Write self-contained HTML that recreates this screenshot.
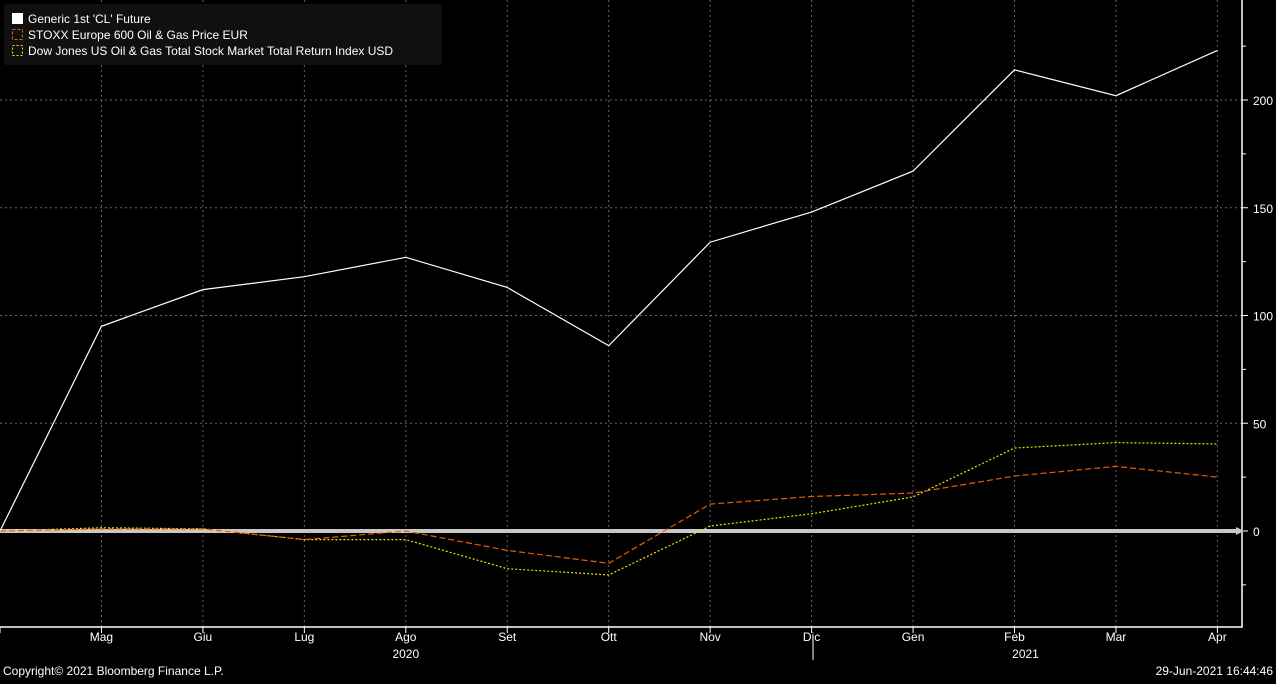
<!DOCTYPE html>
<html><head><meta charset="utf-8"><style>
body{margin:0;background:#000;width:1276px;height:679px;overflow:hidden;font-family:"Liberation Sans",sans-serif}
svg text{font-family:"Liberation Sans",sans-serif;fill:#fff;font-size:12px}
</style></head><body>
<svg id="chart" width="1276" height="679" xmlns="http://www.w3.org/2000/svg"></svg>
<script>
const months=['Apr','Mag','Giu','Lug','Ago','Set','Ott','Nov','Dic','Gen','Feb','Mar','Apr'];
const clFuture=[0,95,112,118,127,113,86,134,148,167,214,202,223];
const stoxx=[0,1,1,-4,0,-9,-15,12.5,16,17.6,25.5,30,25];
const dowJones=[0,1.5,1,-4,-4,-17.5,-20.4,2.3,8,15.8,38.5,41,40.4];
const yTicks=[0,50,100,150,200];
const minorTicks=[-25,25,75,125,175,225];
const legendLabels=["Generic 1st 'CL' Future","STOXX Europe 600 Oil & Gas Price EUR","Dow Jones US Oil & Gas Total Stock Market Total Return Index USD"];

const NS='http://www.w3.org/2000/svg';
const svg=document.getElementById('chart');
const x=i=>0+i*101.45;
const y=v=>531-v*2.155;
function mk(t,a,p){const e=document.createElementNS(NS,t);for(const k in a)e.setAttribute(k,a[k]);(p||svg).appendChild(e);return e;}

// grid
for(let i=1;i<months.length;i++){
  const g=mk('line',{x1:x(i),x2:x(i),y1:0,y2:627,stroke:'#666','stroke-dasharray':'2,3'});
  
  
}
yTicks.forEach(v=>{if(v===0)return;
  const g=mk('line',{x1:0,x2:1242,y1:y(v),y2:y(v),stroke:'#666','stroke-dasharray':'2,3'});
  
  
});
// axes
const ax=mk('path',{d:'M1242 0V627H0',stroke:'#fff',fill:'none','stroke-width':1.5});


yTicks.forEach(v=>{
  mk('line',{x1:1242,x2:1248,y1:y(v),y2:y(v),stroke:'#fff'});
  const t=mk('text',{x:1253,y:y(v)+5});t.textContent=v;
  
  
});
minorTicks.forEach(v=>mk('line',{x1:1242,x2:1246,y1:y(v),y2:y(v),stroke:'#fff'}));
for(let i=0;i<months.length;i++){
  mk('line',{x1:x(i),x2:x(i),y1:627,y2:633,stroke:'#fff'});
  if(i>0){const t=mk('text',{x:x(i),y:641,'text-anchor':'middle'});t.textContent=months[i];
  
  }
}
const y1=mk('text',{x:x(4),y:658,'text-anchor':'middle'});y1.textContent='2020';

const y2=mk('text',{x:x(10)+11,y:658,'text-anchor':'middle'});y2.textContent='2021';

mk('line',{x1:813,x2:813,y1:640,y2:660,stroke:'#fff'});
// zero line
const z=mk('line',{x1:0,x2:1238,y1:y(0),y2:y(0),stroke:'#c8c8c8','stroke-width':4});

mk('path',{d:`M1236 ${y(0)-4}L1244 ${y(0)}L1236 ${y(0)+4}Z`,fill:'#c8c8c8'});
// series
function series(arr,color,dash,name){
  const p=mk('polyline',{points:arr.map((v,i)=>x(i)+','+y(v)).join(' '),fill:'none',stroke:color,'stroke-width':1.2,'stroke-dasharray':dash});
  
  
}
series(dowJones,'#e8e800','2,2','series-dow-jones');
series(stoxx,'#e85d00','6,3','series-stoxx');
series(clFuture,'#fff','none','series-cl-future');
// legend
const lg=mk('g',{});
mk('rect',{x:4,y:4,width:438,height:61,fill:'#101010',rx:2},lg);
const sw=[['#fff','none','#fff'],['none','3,2','#e85d00'],['none','2,2','#e8e800']];
legendLabels.forEach((l,i)=>{
  const yy=13+i*16;
  mk('rect',{x:12.5,y:yy+0.5,width:10,height:10,fill:sw[i][0],stroke:sw[i][2],'stroke-dasharray':sw[i][1]},lg);
  const t=mk('text',{x:28,y:yy+10},lg);t.textContent=l;
  
  
});
const c=mk('text',{x:3,y:675});c.textContent='Copyright© 2021 Bloomberg Finance L.P.';

const d=mk('text',{x:1273,y:675,'text-anchor':'end'});d.textContent='29-Jun-2021 16:44:46';

</script>
</body></html>
